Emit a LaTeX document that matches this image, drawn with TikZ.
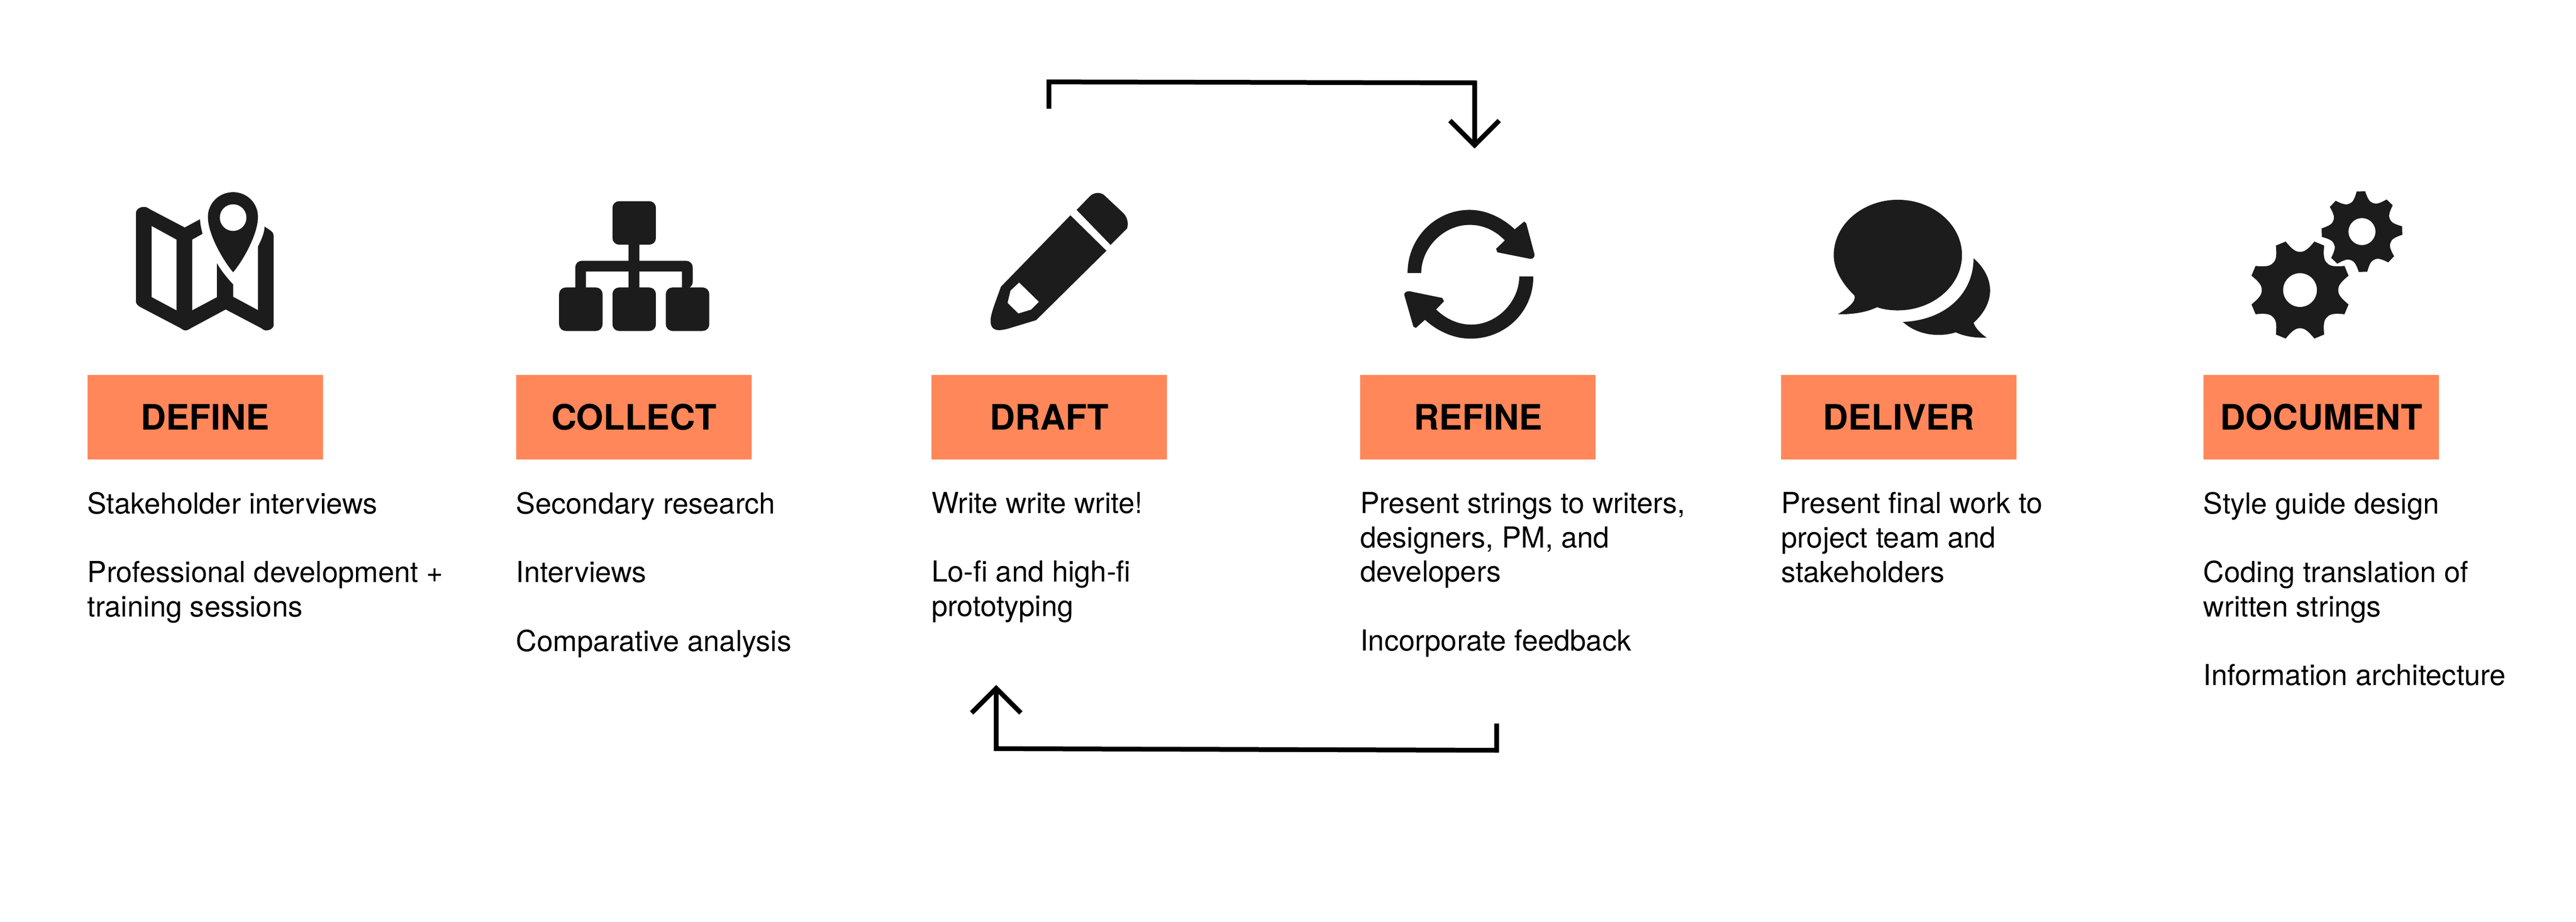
\documentclass[tikz,border=0pt]{standalone}
\usepackage{fontspec}
\setmainfont{TeX Gyre Heros}
\usetikzlibrary{arrows.meta}
\definecolor{ink}{HTML}{1C1C1C}
\definecolor{boxorange}{HTML}{FF875A}
\tikzset{
  stagebox/.style={fill=boxorange,minimum width=143.3pt,minimum height=51.3pt,inner sep=0pt,anchor=north west,
    font=\fontsize{21.3}{25}\selectfont\bfseries,text=black},
  bodytext/.style={anchor=north west,inner sep=0pt,align=left,text=black,font=\fontsize{17.6}{20.9}\selectfont},
  loop/.style={line width=2.9pt,black,-{Straight Barb[length=15pt,width=30pt,line width=2.9pt]},miter limit=10},
  icon/.style={fill=ink,even odd rule},
  zoomA/.style={shift={(69.64pt,-102.14pt)},x=0.2518pt,y=-0.07737pt},
  zoomB/.style={shift={(580.3pt,-34.82pt)},x=0.2518pt,y=-0.11843pt},
  zoomC/.style={shift={(1091pt,-104.46pt)},x=0.2518pt,y=-0.07737pt},
}
\newcommand{\gearpath}[4]{% centre, scale, offset, hole radius
  \fill[icon,shift={#1},scale=#2]
    (#3-16.5:30.8pt)
    \foreach \i in {0,...,7}{
      \pgfextra{\pgfmathsetmacro{\aa}{#3+45*\i}}
      .. controls (\aa-10.5:24.8pt) and (\aa-6:23.3pt) .. (\aa:23.3pt)
      .. controls (\aa+6:23.3pt) and (\aa+10.5:24.8pt) .. (\aa+16.5:30.8pt)
      -- (\aa+28.5:30.8pt)
    } -- cycle
    (0,0) circle[radius=#4];
}
\begin{document}
\begin{tikzpicture}[x=1pt,y=-1pt]
\useasboundingbox (0,0) rectangle (1568,561.05);
% boxes
\node[stagebox] (define) at (53,228.2) {DEFINE};
\node[stagebox] (collect) at (314,228.2) {COLLECT};
\node[stagebox] (draft) at (566.8,228.2) {DRAFT};
\node[stagebox] (refine) at (827.8,228.2) {REFINE};
\node[stagebox] (deliver) at (1084,228.2) {DELIVER};
\node[stagebox] (document) at (1341,228.2) {DOCUMENT};
% texts
\node[bodytext] (t1) at (53,299.5) {Stakeholder interviews\\[20.9pt]Professional development +\\training sessions};
\node[bodytext] (t2) at (314,299.5) {Secondary research\\[20.9pt]Interviews\\[20.9pt]Comparative analysis};
\node[bodytext] (t3) at (566.8,299.5) {Write write write!\\[20.9pt]Lo-fi and high-fi\\prototyping};
\node[bodytext] (t4) at (827.8,299.5) {Present strings to writers,\\designers, PM, and\\developers\\[20.9pt]Incorporate feedback};
\node[bodytext] (t5) at (1084,299.5) {Present final work to\\project team and\\stakeholders};
\node[bodytext] (t6) at (1341,299.5) {Style guide design\\[20.9pt]Coding translation of\\written strings\\[20.9pt]Information architecture};
% map icon
\begin{scope}[zoomA]
\fill[icon] (52,360) .. controls (52,330) and (60,308) .. (72,308) .. controls (78,308) and (82,318) .. (85,325) -- (170,470) -- (207,405)
  .. controls (207,440) and (210,480) .. (213,520) -- (188,565) -- (188,1122) -- (248,1018) -- (248,752)
  .. controls (258,810) and (272,865) .. (287,918) -- (287,1015) -- (347,1120) -- (347,620)
  .. controls (355,570) and (363,510) .. (363,463) -- (378,495) .. controls (383,510) and (385,520) .. (385,535)
  -- (385,1235) .. controls (385,1265) and (375,1280) .. (367,1280) .. controls (362,1280) and (358,1270) .. (355,1262) -- (269,1115) -- (185,1262) .. controls (180,1272) and (176,1280) .. (172,1280) .. controls (168,1280) and (164,1272) .. (160,1262) -- (65,1100) .. controls (56,1085) and (52,1070) .. (52,1050) -- cycle
  (90,458) -- (150,565) -- (150,1122) -- (90,1018) -- cycle;
\fill[icon] (287,822) .. controls (270,760) and (226,540) .. (226,385) .. controls (226,280) and (253,192) .. (287,192)
  .. controls (321,192) and (347,280) .. (347,385) .. controls (347,540) and (304,760) .. (287,822) -- cycle;
\end{scope}
\fill[white] (141.9,132.5) circle[radius=8.1pt];
% hierarchy icon
\begin{scope}[zoomA]
\fill[icon,rounded corners=4pt] (1204,263) rectangle (1309,605);
\fill[icon,rounded corners=4pt] (1075,942) rectangle (1180,1284);
\fill[icon,rounded corners=4pt] (1204,942) rectangle (1309,1284);
\fill[icon,rounded corners=4pt] (1333,942) rectangle (1438,1284);
\fill[icon] (1243,600) rectangle (1269,950);
\fill[icon,rounded corners=4pt] (1114,950) -- (1114,732) -- (1398,732) -- (1398,950) [sharp corners] -- (1372,950) -- (1372,816) -- (1140,816) -- (1140,950) -- cycle;
\end{scope}
% pencil
\begin{scope}[zoomB]
\fill[icon] (283,813) -- (370,995) -- (200,1352) -- (130,1397) .. controls (105,1410) and (90,1405) .. (90,1355) .. controls (90,1320) and (100,1270) .. (115,1180) -- cycle
 (159,1158) -- (207,1258) -- (188,1298) -- (157,1318) -- (131,1263) -- (138,1200) -- cycle;
\fill[icon] (298,785) -- (330,715) .. controls (338,697) and (355,690) .. (365,710) -- (410,800) .. controls (420,820) and (424,850) .. (420,880) -- (380,965) -- cycle;
% refresh
\fill[icon] (1098,1110) .. controls (1098,927) and (1166,785) .. (1248,785) .. controls (1290,785) and (1330,830) .. (1357,885)
  -- (1380,845) -- (1385,855) -- (1405,1015) .. controls (1405,1030) and (1400,1037) .. (1395,1037) -- (1315,1003) -- (1312,985) -- (1333,942)
  .. controls (1310,890) and (1280,862) .. (1248,862) .. controls (1185,862) and (1131,980) .. (1131,1110) -- cycle;
\fill[icon] (1402,1127) .. controls (1402,1310) and (1334,1447) .. (1250,1447) .. controls (1208,1447) and (1168,1405) .. (1140,1350)
  -- (1118,1392) -- (1112,1385) -- (1090,1222) .. controls (1090,1210) and (1095,1203) .. (1102,1203) -- (1182,1238) -- (1186,1255) -- (1167,1297)
  .. controls (1190,1345) and (1220,1375) .. (1252,1375) .. controls (1315,1375) and (1368,1255) .. (1368,1127) -- cycle;
% top connector ends
\coordinate (a1) at (231,265);
\coordinate (a2) at (231,127);
\coordinate (a3) at (1260,132);
\coordinate (a4) at (1260,470);
\end{scope}
\draw[loop] (a1) -- (a2) -- (a3) -- (a4);
% bottom connector
\coordinate (b1) at (911,440.5);
\coordinate (b2) at (911,456.8);
\coordinate (b3) at (606.4,455.8);
\coordinate (b4) at (606.4,417);
\draw[loop] (b1) -- (b2) -- (b3) -- (b4);
% bubbles
\begin{scope}[zoomC]
\fill[icon] (150,975) .. controls (120,880) and (100,770) .. (100,657) .. controls (100,417) and (170,222) .. (255,222)
  .. controls (340,222) and (410,417) .. (410,657) .. controls (410,897) and (340,1092) .. (255,1092)
  .. controls (235,1092) and (218,1083) .. (205,1067) .. controls (180,1105) and (150,1125) .. (110,1122) .. controls (135,1075) and (155,1020) .. (150,975) -- cycle;
\fill[icon] (438,682) .. controls (462,750) and (478,840) .. (478,935) .. controls (478,1030) and (462,1120) .. (438,1190)
  .. controls (442,1230) and (455,1275) .. (470,1307) .. controls (440,1310) and (415,1295) .. (395,1265)
  .. controls (380,1280) and (368,1285) .. (352,1285) .. controls (318,1285) and (288,1245) .. (267,1183)
  .. controls (370,1170) and (438,960) .. (438,682) -- cycle;
\end{scope}
% gears
\gearpath{(1400,176.6)}{1}{0}{10.3pt}
\gearpath{(1437.7,141)}{0.8}{24}{10.3pt}
\end{tikzpicture}
\end{document}
